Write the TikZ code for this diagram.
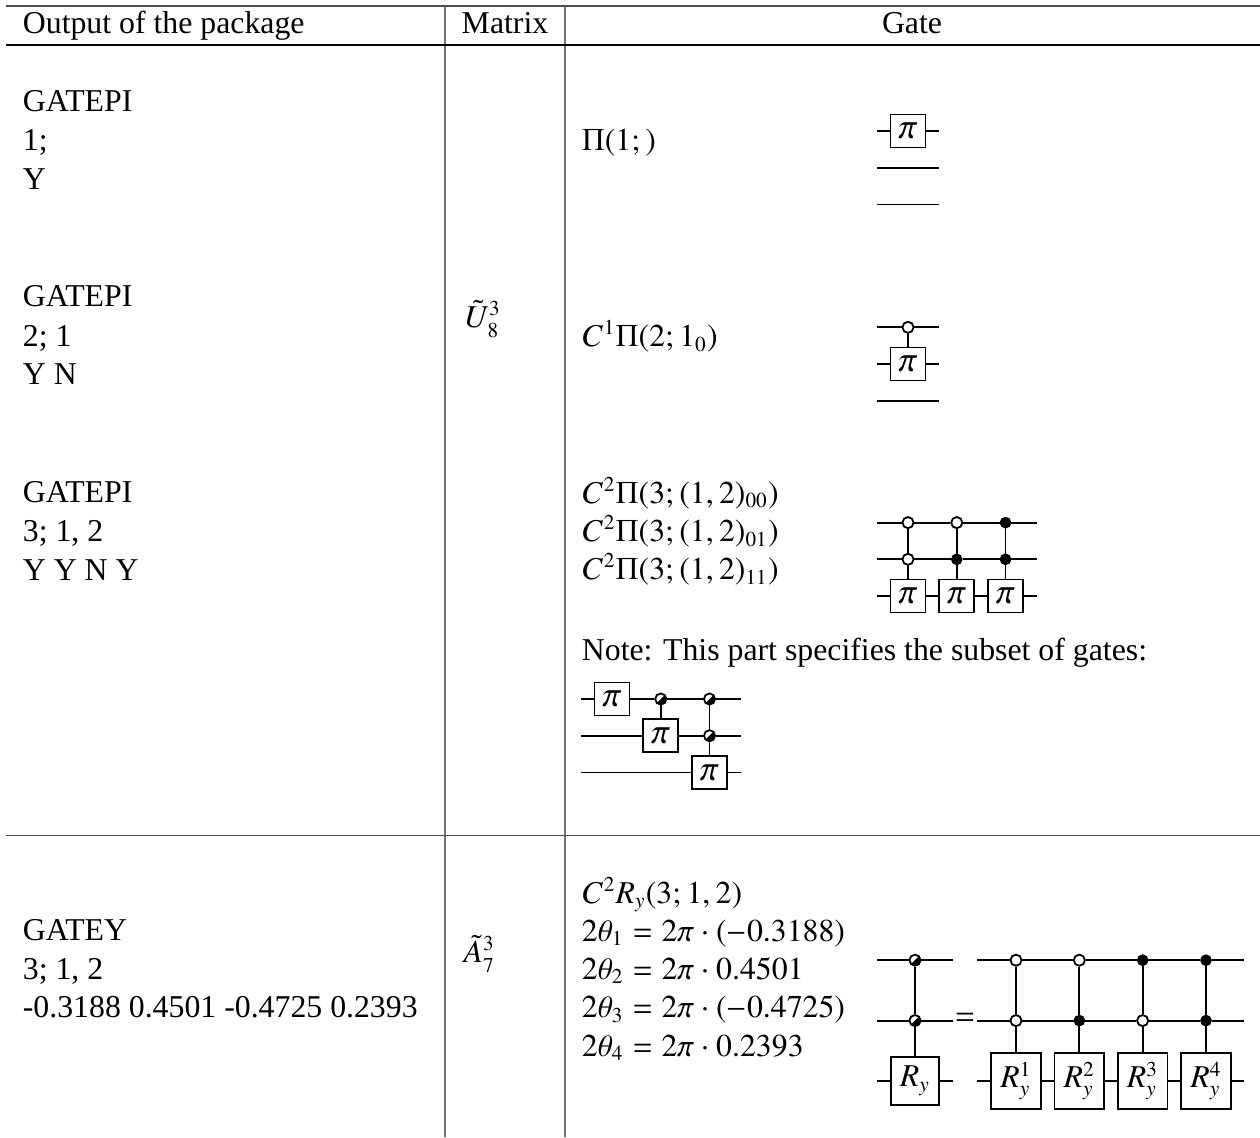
\documentclass[tikz,border=0pt]{standalone}
\usepackage{txfonts}
\usepackage[no-math]{fontspec}
\setmainfont{Liberation Serif}

\tikzstyle{cell} = [rectangle, inner sep=0pt, anchor=base west, font=\fontsize{12}{14.4}\selectfont]
\tikzstyle{head} = [rectangle, inner sep=0pt, anchor=base, font=\fontsize{12}{14.4}\selectfont]
\tikzstyle{rule} = [line width=.4pt]
\tikzstyle{wrule} = [line width=.6pt, draw=black!70]
\tikzstyle{vrule} = [line width=.6pt, draw=black!55]
\tikzstyle{pig} = [draw, rectangle, fill=white, inner sep=0pt, minimum width=13.2pt, minimum height=12.4pt, font=\fontsize{13.5}{14.4}\selectfont]
\tikzstyle{ryg} = [draw, rectangle, fill=white, inner sep=0pt, minimum width=18.3pt, minimum height=17.9pt, font=\fontsize{12}{14.4}\selectfont]
\tikzstyle{rng} = [draw, rectangle, fill=white, inner sep=0pt, minimum width=18.8pt, minimum height=20.9pt, font=\fontsize{12}{14.4}\selectfont]
\tikzstyle{ctrlo} = [draw, circle, fill=white, inner sep=0pt, minimum size=4.2pt]
\tikzstyle{ctrlb} = [draw, circle, fill=black, inner sep=0pt, minimum size=3.7pt]
\tikzstyle{ctrlh} = [draw, circle, fill=white, inner sep=0pt, minimum size=4.2pt, path picture={\fill[black] (path picture bounding box.north east) -- (path picture bounding box.south east) -- (path picture bounding box.south west) -- cycle;}]

\begin{document}
\begin{tikzpicture}[x=0.3774pt, y=-0.3774pt, line width=.68pt, node distance=1cm]
  \def\gsep{18.4pt}
  \def\wsep{13.85pt}
  \def\wend{11.8pt}

  \useasboundingbox (0,0) rectangle (1260,1137);

  \coordinate (top_l) at (6,6);
  \coordinate (top_r) at (1260,6);
  \coordinate (hd_l) at (6,45);
  \coordinate (hd_r) at (1260,45);
  \coordinate (mid_l) at (6,835.5);
  \coordinate (mid_r) at (1260,835.5);
  \coordinate (va_t) at (445,6);
  \coordinate (va_b) at (445,1137);
  \coordinate (vb_t) at (565,6);
  \coordinate (vb_b) at (565,1137);

  \draw [vrule] (va_t) -- (va_b);
  \draw [vrule] (vb_t) -- (vb_b);
  \draw [wrule] (top_l) -- (top_r);
  \draw [rule] (hd_l) -- (hd_r);
  \draw [wrule] (mid_l) -- (mid_r);

  \node [cell] (h_out) at (22,33.5) {Output of the package};
  \node [head] (h_mat) at (505,33.5) {Matrix};
  \node [head] (h_gate) at (912,33.5) {Gate};

  \node [cell] (pa_n) at (22,111.7) {GATEPI};
  \node [cell] (pa_k) at (22,150.5) {1;};
  \node [cell] (pa_y) at (22,189) {Y};
  \node [cell] (pb_n) at (22,306.7) {GATEPI};
  \node [cell] (pb_k) at (22,346) {2; 1};
  \node [cell] (pb_y) at (22,384.5) {Y N};
  \node [cell] (pc_n) at (22,502.3) {GATEPI};
  \node [cell] (pc_k) at (22,541.5) {3; 1, 2};
  \node [cell] (pc_y) at (22,580) {Y Y N Y};
  \node [cell] (gy_n) at (22,940.7) {GATEY};
  \node [cell] (gy_k) at (22,979) {3; 1, 2};
  \node [cell] (gy_v) at (22,1017.5) {-0.3188 0.4501 -0.4725 0.2393};

  \node [cell] (m_u) at (463,327) {$\tilde{U}_{8}^{3}$};
  \node [cell] (m_a) at (462,962) {$\tilde{A}_{7}^{3}$};

  \node [cell] (f_a) at (581,150) {$\Pi(1;)$};
  \node [cell] (f_b) at (581,346.5) {$C^1\Pi(2;1_0)$};
  \node [cell] (f_c0) at (581,503) {$C^2\Pi(3;(1,2)_{00})$};
  \node [cell] (f_c1) at (581,541.5) {$C^2\Pi(3;(1,2)_{01})$};
  \node [cell] (f_c2) at (581,579.5) {$C^2\Pi(3;(1,2)_{11})$};
  \node [cell] (note) at (581,660) {Note: This part specifies the subset of gates:};
  \node [cell] (f_r) at (581,903) {$C^2R_y(3;1,2)$};
  \node [cell] (f_t1) at (581,941) {$2\theta_1=2\pi\cdot(-0.3188)$};
  \node [cell] (f_t2) at (581,979) {$2\theta_2=2\pi\cdot0.4501$};
  \node [cell] (f_t3) at (581,1017.5) {$2\theta_3=2\pi\cdot(-0.4725)$};
  \node [cell] (f_t4) at (581,1056) {$2\theta_4=2\pi\cdot0.2393$};

  \node [pig] (pi_a) at (908,131) {$\pi$};
  \node [coordinate, left of=pi_a, node distance=\wend] (a1_l) {};
  \node [coordinate, right of=pi_a, node distance=\wend] (a1_r) {};
  \node [coordinate, below of=a1_l, node distance=\wsep] (a2_l) {};
  \node [coordinate, below of=a1_r, node distance=\wsep] (a2_r) {};
  \node [coordinate, below of=a2_l, node distance=\wsep] (a3_l) {};
  \node [coordinate, below of=a2_r, node distance=\wsep] (a3_r) {};

  \draw (a1_l) -- (pi_a) -- (a1_r);
  \draw (a2_l) -- (a2_r);
  \draw (a3_l) -- (a3_r);

  \node [pig] (pi_b) at (908,364) {$\pi$};
  \node [ctrlo, above of=pi_b, node distance=\wsep] (cb) {};
  \node [coordinate, left of=pi_b, node distance=\wend] (b2_l) {};
  \node [coordinate, right of=pi_b, node distance=\wend] (b2_r) {};
  \node [coordinate, above of=b2_l, node distance=\wsep] (b1_l) {};
  \node [coordinate, above of=b2_r, node distance=\wsep] (b1_r) {};
  \node [coordinate, below of=b2_l, node distance=\wsep] (b3_l) {};
  \node [coordinate, below of=b2_r, node distance=\wsep] (b3_r) {};

  \draw (b1_l) -- (cb) -- (b1_r);
  \draw (b2_l) -- (pi_b) -- (b2_r);
  \draw (b3_l) -- (b3_r);
  \draw (cb) -- (pi_b);

  \node [pig] (pi_c1) at (908,596) {$\pi$};
  \node [pig, right of=pi_c1, node distance=\gsep] (pi_c2) {$\pi$};
  \node [pig, right of=pi_c2, node distance=\gsep] (pi_c3) {$\pi$};
  \node [ctrlo, above of=pi_c1, node distance=\wsep] (c21) {};
  \node [ctrlb, above of=pi_c2, node distance=\wsep] (c22) {};
  \node [ctrlb, above of=pi_c3, node distance=\wsep] (c23) {};
  \node [ctrlo, above of=c21, node distance=\wsep] (c11) {};
  \node [ctrlo, above of=c22, node distance=\wsep] (c12) {};
  \node [ctrlb, above of=c23, node distance=\wsep] (c13) {};
  \node [coordinate, left of=pi_c1, node distance=\wend] (c3_l) {};
  \node [coordinate, right of=pi_c3, node distance=\wend] (c3_r) {};
  \node [coordinate, left of=c21, node distance=\wend] (c2_l) {};
  \node [coordinate, right of=c23, node distance=\wend] (c2_r) {};
  \node [coordinate, left of=c11, node distance=\wend] (c1_l) {};
  \node [coordinate, right of=c13, node distance=\wend] (c1_r) {};

  \draw (c1_l) -- (c11) -- (c12) -- (c13) -- (c1_r);
  \draw (c2_l) -- (c21) -- (c22) -- (c23) -- (c2_r);
  \draw (c3_l) -- (pi_c1) -- (pi_c2) -- (pi_c3) -- (c3_r);
  \draw (c11) -- (c21) -- (pi_c1);
  \draw (c12) -- (c22) -- (pi_c2);
  \draw (c13) -- (c23) -- (pi_c3);

  \node [pig] (pi_d1) at (612,699) {$\pi$};
  \node [ctrlh, right of=pi_d1, node distance=\gsep] (d12) {};
  \node [ctrlh, right of=d12, node distance=\gsep] (d13) {};
  \node [pig, below of=d12, node distance=\wsep] (pi_d2) {$\pi$};
  \node [ctrlh, below of=d13, node distance=\wsep] (d23) {};
  \node [pig, below of=d23, node distance=\wsep] (pi_d3) {$\pi$};
  \node [coordinate, left of=pi_d1, node distance=\wend] (d1_l) {};
  \node [coordinate, right of=d13, node distance=\wend] (d1_r) {};
  \node [coordinate, below of=d1_l, node distance=\wsep] (d2_l) {};
  \node [coordinate, right of=d23, node distance=\wend] (d2_r) {};
  \node [coordinate, below of=d2_l, node distance=\wsep] (d3_l) {};
  \node [coordinate, right of=pi_d3, node distance=\wend] (d3_r) {};

  \draw (d1_l) -- (pi_d1) -- (d12) -- (d13) -- (d1_r);
  \draw (d2_l) -- (pi_d2) -- (d23) -- (d2_r);
  \draw (d3_l) -- (pi_d3) -- (d3_r);
  \draw (d12) -- (pi_d2);
  \draw (d13) -- (d23) -- (pi_d3);

  \node [ryg] (ry) at (915,1081) {$R_y$};
  \node [ctrlh, above of=ry, node distance=22.8pt] (e2) {};
  \node [ctrlh, above of=e2, node distance=22.8pt] (e1) {};
  \node [coordinate, left of=ry, node distance=14.3pt] (e3_l) {};
  \node [coordinate, right of=ry, node distance=14.3pt] (e3_r) {};
  \node [coordinate, left of=e2, node distance=14.3pt] (e2_l) {};
  \node [coordinate, right of=e2, node distance=14.3pt] (e2_r) {};
  \node [coordinate, left of=e1, node distance=14.3pt] (e1_l) {};
  \node [coordinate, right of=e1, node distance=14.3pt] (e1_r) {};

  \draw (e1_l) -- (e1) -- (e1_r);
  \draw (e2_l) -- (e2) -- (e2_r);
  \draw (e3_l) -- (ry) -- (e3_r);
  \draw (e1) -- (e2) -- (ry);

  \node [head, anchor=center] (eq) at (965,1019) {$=$};

  \node [rng] (r1) at (1016,1081) {$R_y^1$};
  \node [rng, right of=r1, node distance=23.9pt] (r2) {$R_y^2$};
  \node [rng, right of=r2, node distance=23.9pt] (r3) {$R_y^3$};
  \node [rng, right of=r3, node distance=23.9pt] (r4) {$R_y^4$};
  \node [ctrlo, above of=r1, node distance=22.8pt] (f21) {};
  \node [ctrlb, above of=r2, node distance=22.8pt] (f22) {};
  \node [ctrlo, above of=r3, node distance=22.8pt] (f23) {};
  \node [ctrlb, above of=r4, node distance=22.8pt] (f24) {};
  \node [ctrlo, above of=f21, node distance=22.8pt] (f11) {};
  \node [ctrlo, above of=f22, node distance=22.8pt] (f12) {};
  \node [ctrlb, above of=f23, node distance=22.8pt] (f13) {};
  \node [ctrlb, above of=f24, node distance=22.8pt] (f14) {};
  \node [coordinate, left of=r1, node distance=14.7pt] (f3_l) {};
  \node [coordinate, right of=r4, node distance=14.4pt] (f3_r) {};
  \node [coordinate, left of=f21, node distance=14.7pt] (f2_l) {};
  \node [coordinate, right of=f24, node distance=14.4pt] (f2_r) {};
  \node [coordinate, left of=f11, node distance=14.7pt] (f1_l) {};
  \node [coordinate, right of=f14, node distance=14.4pt] (f1_r) {};

  \draw (f1_l) -- (f11) -- (f12) -- (f13) -- (f14) -- (f1_r);
  \draw (f2_l) -- (f21) -- (f22) -- (f23) -- (f24) -- (f2_r);
  \draw (f3_l) -- (r1) -- (r2) -- (r3) -- (r4) -- (f3_r);
  \draw (f11) -- (f21) -- (r1);
  \draw (f12) -- (f22) -- (r2);
  \draw (f13) -- (f23) -- (r3);
  \draw (f14) -- (f24) -- (r4);
\end{tikzpicture}
\end{document}
